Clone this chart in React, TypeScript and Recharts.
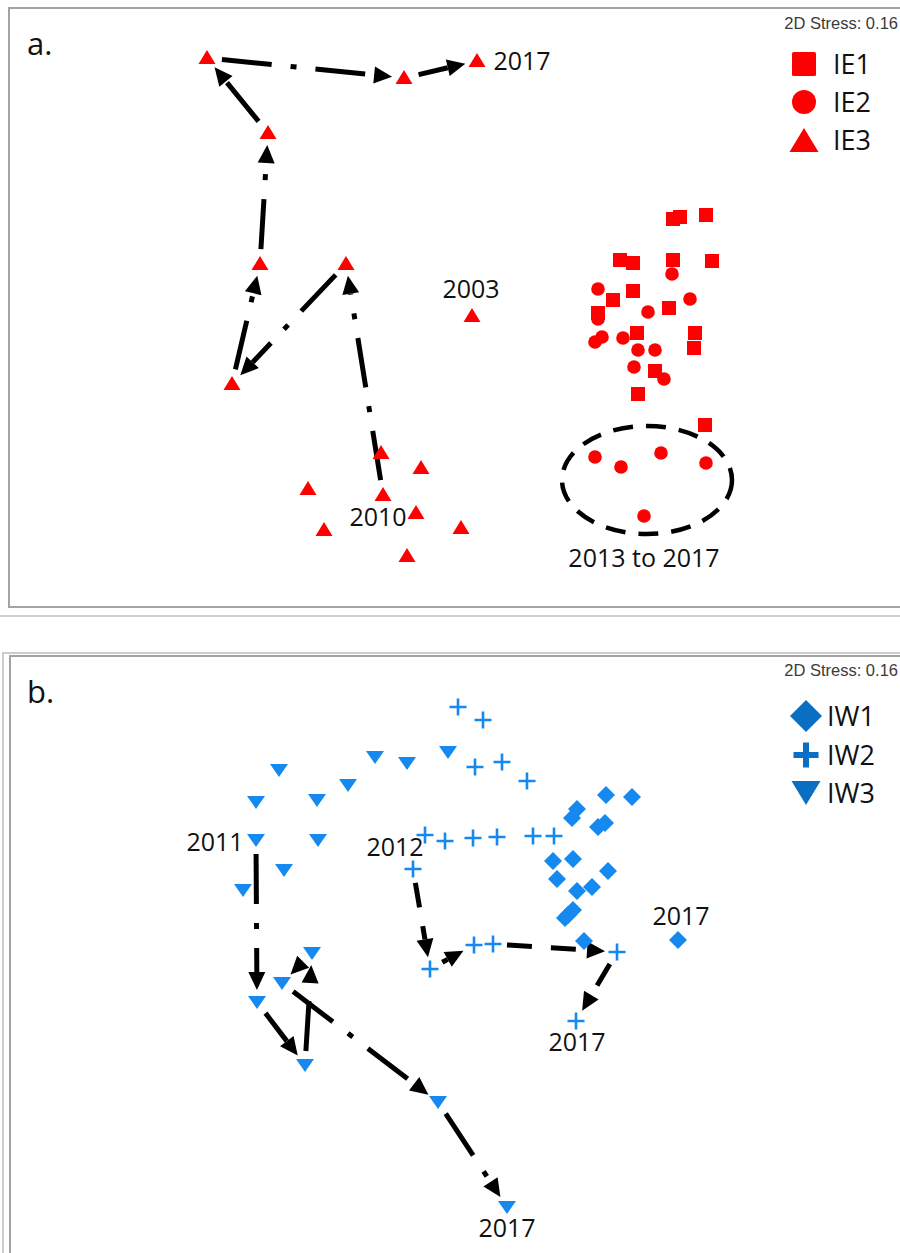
import React from 'react';
import { ScatterChart, Scatter, XAxis, YAxis, ReferenceLine, ReferenceDot, Legend } from 'recharts';

type Pt = [number, number];

// ---- panel a: IE sites (ordination scores in plot units) ----
const IE1: Pt[] = [
  [673, 219], [680, 217], [706, 215], [620, 260], [633, 263], [673, 260], [712, 261],
  [633, 291], [613, 300], [669, 308], [598, 313], [637, 333], [695, 333], [694, 348],
  [655, 371], [638, 394], [705, 425],
];
const IE2: Pt[] = [
  [672, 274], [598, 289], [690, 299], [648, 312], [598, 319], [595, 342], [602, 337],
  [623, 338], [638, 350], [655, 350], [634, 367], [664, 379],
  [595, 457], [621, 467], [661, 453], [706, 463], [644, 516],
];
// IE3 in time order: 2003, the cluster up to 2010, then the walk to 2017
const IE3: Pt[] = [
  [472, 316], [381, 453], [421, 468], [308, 489], [416, 513], [324, 530], [461, 528],
  [407, 556], [383, 495], [346, 264], [232, 384], [260, 264], [268, 133], [207, 58],
  [404, 78], [477, 61],
];
const IE3_STEPS: [number, number][] = [[8, 9], [9, 10], [10, 11], [11, 12], [12, 13], [13, 14], [14, 15]];

// ---- panel b: IW sites ----
const IW1: Pt[] = [
  [606, 795], [632, 797], [577, 809], [572, 818], [598, 827], [605, 823], [553, 861],
  [573, 859], [608, 871], [557, 879], [577, 891], [592, 887], [573, 910], [565, 918],
  [568, 915], [584, 941], [678, 940],
];
// IW2: earlier years first, then 2012 -> 2017
const IW2: Pt[] = [
  [458, 707], [483, 720], [475, 767], [502, 762], [527, 781], [425, 835], [445, 841],
  [473, 838], [497, 837], [533, 836], [554, 836],
  [413, 869], [430, 969], [474, 945], [493, 944], [617, 952], [576, 1021],
];
const IW2_STEPS: [number, number][] = [[11, 12], [12, 13], [14, 15], [15, 16]];
// IW3: earlier years first, then 2011 -> 2017
const IW3: Pt[] = [
  [279, 770], [256, 802], [317, 800], [348, 785], [375, 757], [407, 763], [448, 752],
  [318, 840], [284, 870], [243, 890],
  [256, 840], [257, 1002], [305, 1065], [312, 953], [282, 983], [438, 1102], [507, 1207],
];
const IW3_STEPS: [number, number][] = [[10, 11], [11, 12], [12, 13], [13, 14], [14, 15], [15, 16]];

const A_NOTES = [
  { text: '2017', x: 522, y: 61 },
  { text: '2003', x: 471, y: 289 },
  { text: '2010', x: 378, y: 517 },
  { text: '2013 to 2017', x: 644, y: 558 },
];
const B_NOTES = [
  { text: '2011', x: 215, y: 842 },
  { text: '2012', x: 395, y: 847 },
  { text: '2017', x: 681, y: 916 },
  { text: '2017', x: 577, y: 1042 },
  { text: '2017', x: 507, y: 1228 },
];
const A_RING = { x: 647, y: 480, rx: 85, ry: 54 };
const STRESS = '2D Stress: 0.16';

const RED = '#ff0000';
const BLUE = '#1589f0';
const BLUE_KEY = '#0a6fc2';
const FONT = "'Open Sans', 'Noto Sans', sans-serif";

const toXY = (pts: Pt[]) => pts.map(([x, y]) => ({ x, y }));

// point markers
const square = (p: any) => <rect x={p.cx - 7} y={p.cy - 7} width={14} height={14} fill={RED} />;
const dot = (p: any) => <circle cx={p.cx} cy={p.cy} r={6.8} fill={RED} />;
const triUp = (p: any) => (
  <polygon points={`${p.cx},${p.cy - 8} ${p.cx - 8.5},${p.cy + 6} ${p.cx + 8.5},${p.cy + 6}`} fill={RED} />
);
const diamond = (p: any) => (
  <polygon points={`${p.cx},${p.cy - 9} ${p.cx + 9},${p.cy} ${p.cx},${p.cy + 9} ${p.cx - 9},${p.cy}`} fill={BLUE} />
);
const plus = (p: any) => (
  <path d={`M${p.cx - 8.5} ${p.cy}H${p.cx + 8.5}M${p.cx} ${p.cy - 8.5}V${p.cy + 8.5}`} stroke={BLUE} strokeWidth={2.6} />
);
const triDown = (p: any) => (
  <polygon points={`${p.cx - 9},${p.cy - 6} ${p.cx + 9},${p.cy - 6} ${p.cx},${p.cy + 7}`} fill={BLUE} />
);

// dashed arrow between two sites, pulled back from both markers
const arrow = (dash: string, cut0: number, cut1: number) => (p: any) => {
  const { x1, y1, x2, y2 } = p;
  const len = Math.hypot(x2 - x1, y2 - y1) || 1;
  const ux = (x2 - x1) / len;
  const uy = (y2 - y1) / len;
  const sx = x1 + ux * cut0;
  const sy = y1 + uy * cut0;
  const tx = x2 - ux * cut1;
  const ty = y2 - uy * cut1;
  const head = 18;
  const half = 8.5;
  const bx = tx - ux * head;
  const by = ty - uy * head;
  const hasShaft = (bx - sx) * ux + (by - sy) * uy > 0;
  return (
    <g>
      {hasShaft && <line x1={sx} y1={sy} x2={bx} y2={by} stroke="#000" strokeWidth={5} strokeDasharray={dash} />}
      <polygon
        points={`${tx},${ty} ${bx - uy * half},${by + ux * half} ${bx + uy * half},${by - ux * half}`}
        fill="#000"
      />
    </g>
  );
};

const note = (text: string) => (p: any) => (
  <text x={p.cx} y={p.cy + 9} textAnchor="middle" fontFamily={FONT} fontSize={25} fill="#111">
    {text}
  </text>
);
const tag = (text: string) => (p: any) => (
  <text x={p.cx} y={p.cy} fontFamily={FONT} fontSize={31} fill="#111">
    {text}
  </text>
);
const stress = (p: any) => (
  <text x={p.cx} y={p.cy} textAnchor="end" fontFamily="'Liberation Sans', Arial, sans-serif" fontSize={16.5} fill="#3a3a3a">
    {STRESS}
  </text>
);
const ring = (p: any) => (
  <ellipse cx={p.cx} cy={p.cy} rx={A_RING.rx} ry={A_RING.ry} fill="none" stroke="#000" strokeWidth={4.5} strokeDasharray="20 13" />
);

function keyMark(name: string) {
  switch (name) {
    case 'IE1': return <rect x={4} y={4} width={24} height={24} rx={1.5} fill={RED} />;
    case 'IE2': return <circle cx={16} cy={16} r={12} fill={RED} />;
    case 'IE3': return <polygon points="1.5,28 30.5,28 16,4" fill={RED} />;
    case 'IW1': return <polygon points="16,0 32,16 16,32 0,16" fill={BLUE_KEY} />;
    case 'IW2': return <path d="M3.5 16H28.5M16 3.5V28.5" stroke={BLUE_KEY} strokeWidth={6} />;
    default: return <polygon points="1.5,4 30.5,4 16,28" fill={BLUE_KEY} />;
  }
}

const keyContent = (gap: number, row: number) => (props: any) => (
  <div>
    {(props.payload ?? []).map((e: any) => (
      <div key={e.value} style={{ display: 'flex', alignItems: 'center', height: row }}>
        <svg width={32} height={32}>{keyMark(e.value)}</svg>
        <span style={{ marginLeft: gap, fontFamily: FONT, fontSize: 27, color: '#111', lineHeight: `${row}px` }}>
          {e.value}
        </span>
      </div>
    ))}
  </div>
);

const frame = (style: React.CSSProperties) => (
  <div style={{ position: 'absolute', boxSizing: 'border-box', ...style }} />
);

function PanelA() {
  return (
    <ScatterChart width={891} height={599} margin={{ top: 0, right: 0, bottom: 0, left: 0 }}>
      <XAxis type="number" dataKey="x" domain={[9, 900]} allowDataOverflow hide />
      <YAxis type="number" dataKey="y" domain={[8, 607]} allowDataOverflow reversed hide />
      <ReferenceDot x={A_RING.x} y={A_RING.y} r={0} ifOverflow="visible" shape={ring} />
      {IE3_STEPS.map(([a, b], i) => (
        <ReferenceLine
          key={i}
          segment={[{ x: IE3[a][0], y: IE3[a][1] }, { x: IE3[b][0], y: IE3[b][1] }]}
          ifOverflow="visible"
          shape={arrow('50 19 6 19', 15, 12)}
        />
      ))}
      <Scatter name="IE1" data={toXY(IE1)} fill={RED} shape={square} isAnimationActive={false} />
      <Scatter name="IE2" data={toXY(IE2)} fill={RED} shape={dot} isAnimationActive={false} />
      <Scatter name="IE3" data={toXY(IE3)} fill={RED} shape={triUp} isAnimationActive={false} />
      {A_NOTES.map((n, i) => (
        <ReferenceDot key={i} x={n.x} y={n.y} r={0} ifOverflow="visible" shape={note(n.text)} />
      ))}
      <ReferenceDot x={27} y={55} r={0} ifOverflow="visible" shape={tag('a.')} />
      <ReferenceDot x={898} y={29} r={0} ifOverflow="visible" shape={stress} />
      <Legend
        layout="vertical"
        align="center"
        verticalAlign="middle"
        content={keyContent(13, 38)}
        wrapperStyle={{ left: 779, top: 37, width: 110, height: 'auto' }}
      />
    </ScatterChart>
  );
}

function PanelB() {
  return (
    <ScatterChart width={890} height={597} margin={{ top: 0, right: 0, bottom: 0, left: 0 }}>
      <XAxis type="number" dataKey="x" domain={[10, 900]} allowDataOverflow hide />
      <YAxis type="number" dataKey="y" domain={[656, 1253]} allowDataOverflow reversed hide />
      {IW3_STEPS.map(([a, b], i) => (
        <ReferenceLine
          key={`w3-${i}`}
          segment={[{ x: IW3[a][0], y: IW3[a][1] }, { x: IW3[b][0], y: IW3[b][1] }]}
          ifOverflow="visible"
          shape={arrow('50 19 6 19', 14, 12)}
        />
      ))}
      {IW2_STEPS.map(([a, b], i) => (
        <ReferenceLine
          key={`w2-${i}`}
          segment={[{ x: IW2[a][0], y: IW2[a][1] }, { x: IW2[b][0], y: IW2[b][1] }]}
          ifOverflow="visible"
          shape={arrow('25 19', 14, 12)}
        />
      ))}
      <Scatter name="IW1" data={toXY(IW1)} fill={BLUE} shape={diamond} isAnimationActive={false} />
      <Scatter name="IW2" data={toXY(IW2)} fill={BLUE} shape={plus} isAnimationActive={false} />
      <Scatter name="IW3" data={toXY(IW3)} fill={BLUE} shape={triDown} isAnimationActive={false} />
      {B_NOTES.map((n, i) => (
        <ReferenceDot key={i} x={n.x} y={n.y} r={0} ifOverflow="visible" shape={note(n.text)} />
      ))}
      <ReferenceDot x={27} y={703} r={0} ifOverflow="visible" shape={tag('b.')} />
      <ReferenceDot x={898} y={676} r={0} ifOverflow="visible" shape={stress} />
      <Legend
        layout="vertical"
        align="center"
        verticalAlign="middle"
        content={keyContent(5, 38.5)}
        wrapperStyle={{ left: 780, top: 41, width: 110, height: 'auto' }}
      />
    </ScatterChart>
  );
}

export default function App() {
  return (
    <div style={{ position: 'absolute', left: 0, top: 0, width: 900, height: 1253, overflow: 'hidden', background: '#fff' }}>
      {frame({ left: 8, top: 7, width: 900, height: 601, border: '2px solid #a3a3a3', borderRight: 'none' })}
      {frame({ left: 0, top: 615, width: 900, height: 2, background: '#cfcfcf' })}
      {frame({ left: 2, top: 652, width: 900, height: 700, borderTop: '2px solid #cccccc', borderLeft: '2px solid #cccccc' })}
      {frame({ left: 9, top: 655, width: 900, height: 700, borderTop: '2px solid #a3a3a3', borderLeft: '2px solid #a3a3a3' })}
      <div style={{ position: 'absolute', left: 9, top: 8 }}>
        <PanelA />
      </div>
      <div style={{ position: 'absolute', left: 10, top: 656 }}>
        <PanelB />
      </div>
    </div>
  );
}
